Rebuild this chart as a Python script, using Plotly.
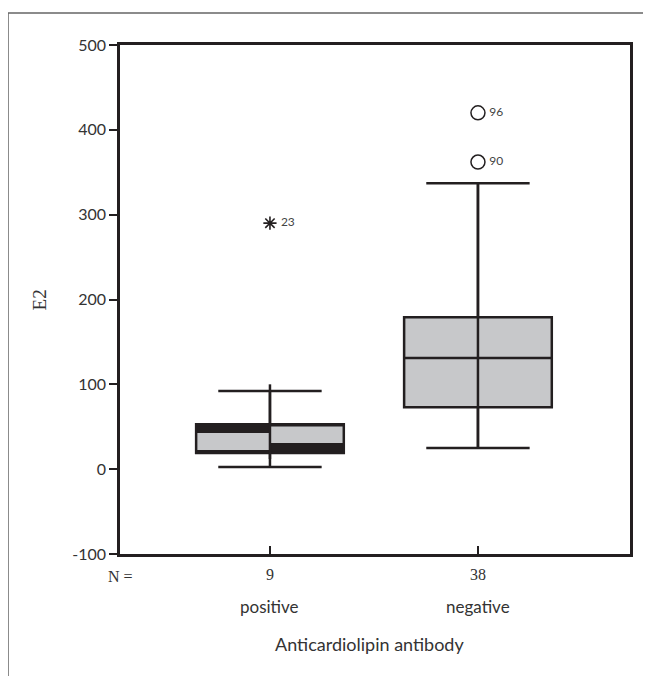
import plotly.graph_objects as go

# ---- data ----
categories = ["positive", "negative"]
n_counts = ["9", "38"]
x_pos = [1, 2]
lower_fence = [2.6, 25]
q1 = [19, 73]
median = [53, 131]
q3 = [53, 179]
upper_fence = [92, 337]
stem_low = [12, 25]
stem_high = [100, 337]
# printing artefact inside the "positive" box: gray halves
left_gray_low, left_gray_high = 22.6, 43
right_gray_low, right_gray_high = 31, 51
outlier_x = [2, 2]
outlier_y = [420, 362]
outlier_ids = ["96", "90"]
extreme_x = [1]
extreme_y = [290]
extreme_ids = ["23"]
y_ticks = [-100, 0, 100, 200, 300, 400, 500]
y_tick_text = ["-100", "0", "100", "200", "300", "400", "500"]

INK = "#231f20"
GRAY = "#c7c8ca"
BOX_W = 0.71

fig = go.Figure()

# dark fill of the positive box
fig.add_trace(go.Bar(x=[x_pos[0]], y=[q3[0] - q1[0]], base=[q1[0]], width=BOX_W,
                     marker=dict(color=INK, line=dict(width=0)), showlegend=False))
# gray halves
fig.add_trace(go.Bar(x=[x_pos[0]], y=[left_gray_high - left_gray_low], base=[left_gray_low],
                     width=BOX_W / 2, offset=-BOX_W / 2,
                     marker=dict(color=GRAY, line=dict(width=0)), showlegend=False))
fig.add_trace(go.Bar(x=[x_pos[0]], y=[right_gray_high - right_gray_low], base=[right_gray_low],
                     width=BOX_W / 2, offset=0,
                     marker=dict(color=GRAY, line=dict(width=0)), showlegend=False))

# boxes
fig.add_trace(go.Box(x=[x_pos[0]], q1=[q1[0]], median=[median[0]], q3=[q3[0]],
                     lowerfence=[lower_fence[0]], upperfence=[upper_fence[0]],
                     width=BOX_W, whiskerwidth=0.7, boxpoints=False,
                     fillcolor="rgba(0,0,0,0)", line=dict(color=INK, width=2.5),
                     showlegend=False, hoverinfo="skip"))
fig.add_trace(go.Box(x=[x_pos[1]], q1=[q1[1]], median=[median[1]], q3=[q3[1]],
                     lowerfence=[lower_fence[1]], upperfence=[upper_fence[1]],
                     width=BOX_W, whiskerwidth=0.7, boxpoints=False,
                     fillcolor=GRAY, line=dict(color=INK, width=2.5),
                     showlegend=False, hoverinfo="skip"))

# stems through the boxes
stem_x, stem_y = [], []
for xx, lo, hi in zip(x_pos, stem_low, stem_high):
    stem_x += [xx, xx, None]
    stem_y += [lo, hi, None]
fig.add_trace(go.Scatter(x=stem_x, y=stem_y, mode="lines",
                         line=dict(color=INK, width=2.5), showlegend=False, hoverinfo="skip"))

# outliers
fig.add_trace(go.Scatter(x=outlier_x, y=outlier_y, mode="markers+text",
                         text=["\u2009" + t for t in outlier_ids],
                         textposition="middle right",
                         textfont=dict(family="Lato, sans-serif", size=12, color="#444"),
                         marker=dict(symbol="circle-open", size=14, color=INK, line=dict(width=1.5)),
                         showlegend=False))
fig.add_trace(go.Scatter(x=extreme_x, y=extreme_y, mode="markers+text",
                         text=[" " + t for t in extreme_ids],
                         textposition="middle right",
                         textfont=dict(family="Lato, sans-serif", size=12, color="#444"),
                         marker=dict(symbol="asterisk-open", size=11, color=INK, line=dict(width=1.6, color=INK)),
                         showlegend=False))

# annotations for N and category labels
serif = "Liberation Serif, Times New Roman, serif"
sans = "Lato, Open Sans, sans-serif"
ann = [dict(x=0, xref="paper", y=-0.044, yref="paper", text="N =", showarrow=False,
            font=dict(family=serif, size=16, color="#333"), xanchor="center", yanchor="middle")]
for xx, n, c in zip(x_pos, n_counts, categories):
    ann.append(dict(x=xx, xref="x", y=-0.04, yref="paper", text=n, showarrow=False,
                    font=dict(family=serif, size=16, color="#333"), yanchor="middle"))
    ann.append(dict(x=xx, xref="x", y=-0.103, yref="paper", text=c, showarrow=False,
                    font=dict(family=sans, size=17, color="#333"), yanchor="middle"))
ann.append(dict(x=0.49, xref="paper", y=-0.176, yref="paper", text="Anticardiolipin antibody",
                showarrow=False, font=dict(family=sans, size=18, color="#333"), yanchor="middle"))
ann.append(dict(x=-0.157, xref="paper", y=0.5, yref="paper", text="E2", textangle=-90,
                showarrow=False, font=dict(family=serif, size=19, color="#333"),
                xanchor="center", yanchor="middle"))

# the page body adds an 8px offset, so the figure is 8px smaller
fig.update_layout(
    width=643, height=668, autosize=False,
    margin=dict(l=112, r=21, t=37, b=122),
    plot_bgcolor="white", paper_bgcolor="white",
    barmode="overlay", boxmode="overlay", bargap=0,
    annotations=ann,
    shapes=[dict(type="rect", xref="paper", yref="paper",
                 x0=-0.2196, x1=1.2, y0=-0.4, y1=1.063,
                 line=dict(color="#666", width=1.5))],
)
fig.update_xaxes(range=[0.279, 2.731], tickvals=x_pos, ticks="inside", ticklen=8, tickwidth=2,
                 tickcolor=INK, showticklabels=False, showline=True, linewidth=2.5, linecolor=INK,
                 mirror=True, showgrid=False, zeroline=False)
fig.update_yaxes(range=[-100, 500], tickvals=y_ticks, ticktext=y_tick_text,
                 ticks="outside", ticklen=8, tickwidth=2, tickcolor=INK,
                 tickfont=dict(family=sans, size=16, color="#333"),
                 showline=True, linewidth=2.5, linecolor=INK, mirror=True,
                 showgrid=False, zeroline=False)

fig.write_html("out.html")
